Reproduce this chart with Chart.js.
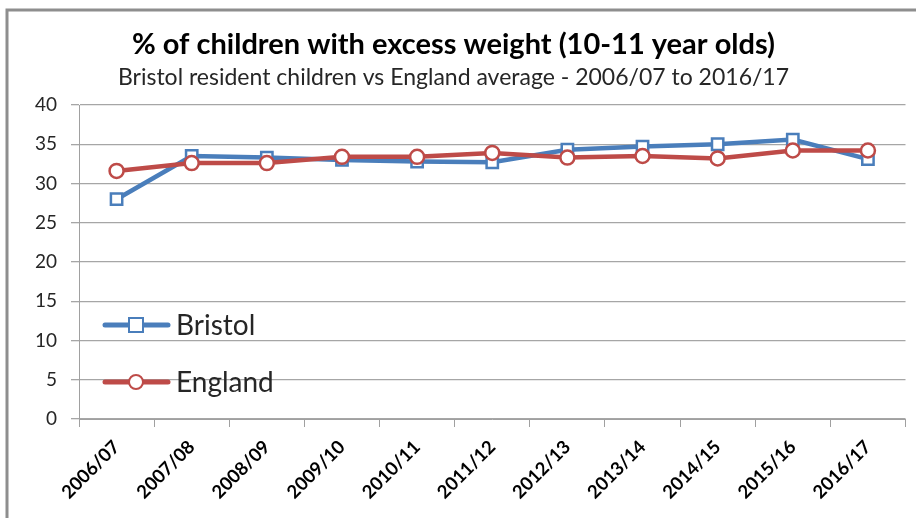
<!DOCTYPE html>
<html>
<head>
<meta charset="utf-8">
<script src="https://cdn.jsdelivr.net/npm/chart.js@4.4.1/dist/chart.umd.min.js"></script>
<style>
  html, body { margin: 0; padding: 0; background: #ffffff; }
  #wrap { width: 916px; height: 518px; position: relative; }
</style>
</head>
<body>
<div id="wrap"><canvas id="c" width="916" height="518"></canvas></div>
<script>
const categories = ["2006/07","2007/08","2008/09","2009/10","2010/11","2011/12","2012/13","2013/14","2014/15","2015/16","2016/17"];
const bristol = [28.0, 33.5, 33.3, 33.0, 32.8, 32.7, 34.3, 34.7, 35.0, 35.6, 33.1];
const england = [31.6, 32.6, 32.6, 33.4, 33.4, 33.9, 33.3, 33.5, 33.2, 34.2, 34.2];
const yTicks = [0, 5, 10, 15, 20, 25, 30, 35, 40];
const titleText = "% of children with excess weight (10-11 year olds)";
const subtitleText = "Bristol resident children vs England average - 2006/07 to 2016/17";

const BLUE = "#4a7ebb";
const RED = "#be4b48";
const FONT = "Lato, 'Open Sans', sans-serif";

const frame = {
  id: "frame",
  beforeDraw(chart) {
    const ctx = chart.ctx;
    ctx.save();
    ctx.strokeStyle = "#8e8e8e";
    ctx.lineWidth = 3;
    ctx.beginPath();
    ctx.moveTo(7, 520);
    ctx.lineTo(7, 10);
    ctx.lineTo(918, 10);
    ctx.stroke();
    ctx.restore();
  }
};

const innerLegend = {
  id: "innerLegend",
  afterDraw(chart) {
    const ctx = chart.ctx;
    const items = [
      { label: chart.data.datasets[1].label, color: BLUE, style: "rect", y: 325 },
      { label: chart.data.datasets[0].label, color: RED, style: "circle", y: 382 }
    ];
    ctx.save();
    items.forEach(it => {
      ctx.strokeStyle = it.color;
      ctx.lineWidth = 5;
      ctx.lineCap = "round";
      ctx.beginPath();
      ctx.moveTo(105, it.y);
      ctx.lineTo(168, it.y);
      ctx.stroke();
      ctx.lineWidth = 2;
      ctx.fillStyle = "#ffffff";
      if (it.style === "rect") {
        ctx.fillRect(129, it.y - 7, 14, 14);
        ctx.strokeRect(129, it.y - 7, 14, 14);
      } else {
        ctx.beginPath();
        ctx.arc(136, it.y, 7, 0, Math.PI * 2);
        ctx.fill();
        ctx.stroke();
      }
      ctx.fillStyle = "#262626";
      ctx.font = "28px " + FONT;
      ctx.textBaseline = "middle";
      ctx.textAlign = "left";
      ctx.fillText(it.label, 176, it.y + 1);
    });
    ctx.restore();
  }
};

new Chart(document.getElementById("c"), {
  type: "line",
  data: {
    labels: categories,
    datasets: [
      {
        label: "England",
        data: england,
        borderColor: RED,
        backgroundColor: "#ffffff",
        borderWidth: 4.5,
        pointStyle: "circle",
        pointRadius: 7,
        pointBorderWidth: 2.5,
        pointBackgroundColor: "#ffffff",
        pointBorderColor: RED,
        tension: 0
      },
      {
        label: "Bristol",
        data: bristol,
        borderColor: BLUE,
        backgroundColor: "#ffffff",
        borderWidth: 4.5,
        pointStyle: "rect",
        pointRadius: 8,
        pointBorderWidth: 2.5,
        pointBackgroundColor: "#ffffff",
        pointBorderColor: BLUE,
        tension: 0
      }
    ]
  },
  options: {
    responsive: false,
    animation: false,
    devicePixelRatio: 1,
    layout: { padding: { top: 0, left: 0, right: 9, bottom: 0 } },
    plugins: {
      legend: { display: false },
      tooltip: { enabled: false },
      title: {
        display: true,
        text: titleText,
        color: "#000000",
        font: { family: FONT, size: 29, weight: "bold", lineHeight: 1.2 },
        padding: { top: 27, bottom: 0 }
      },
      subtitle: {
        display: true,
        text: subtitleText,
        color: "#262626",
        font: { family: FONT, size: 23, lineHeight: 1.2 },
        padding: { top: 2, bottom: 13.6 }
      }
    },
    scales: {
      x: {
        offset: true,
        grid: {
          offset: true,
          drawOnChartArea: false,
          drawTicks: true,
          tickLength: 8,
          color: "#a0a0a0"
        },
        border: { color: "#a0a0a0", width: 1 },
        ticks: {
          minRotation: 45,
          maxRotation: 45,
          color: "#000000",
          font: { family: FONT, size: 18.5, weight: "bold" },
          padding: 9
        },
        afterFit(scale) { scale.height = 99; }
      },
      y: {
        min: 0,
        max: 40,
        afterBuildTicks(scale) { scale.ticks = yTicks.map(v => ({ value: v })); },
        grid: {
          color: "#a6a6a6",
          lineWidth: 1.3,
          drawTicks: true,
          tickLength: 8
        },
        border: { color: "#a0a0a0", width: 1 },
        ticks: {
          color: "#262626",
          font: { family: FONT, size: 19 },
          padding: 14
        },
        afterFit(scale) { scale.width = 79; }
      }
    }
  },
  plugins: [frame, innerLegend]
});
</script>
</body>
</html>
